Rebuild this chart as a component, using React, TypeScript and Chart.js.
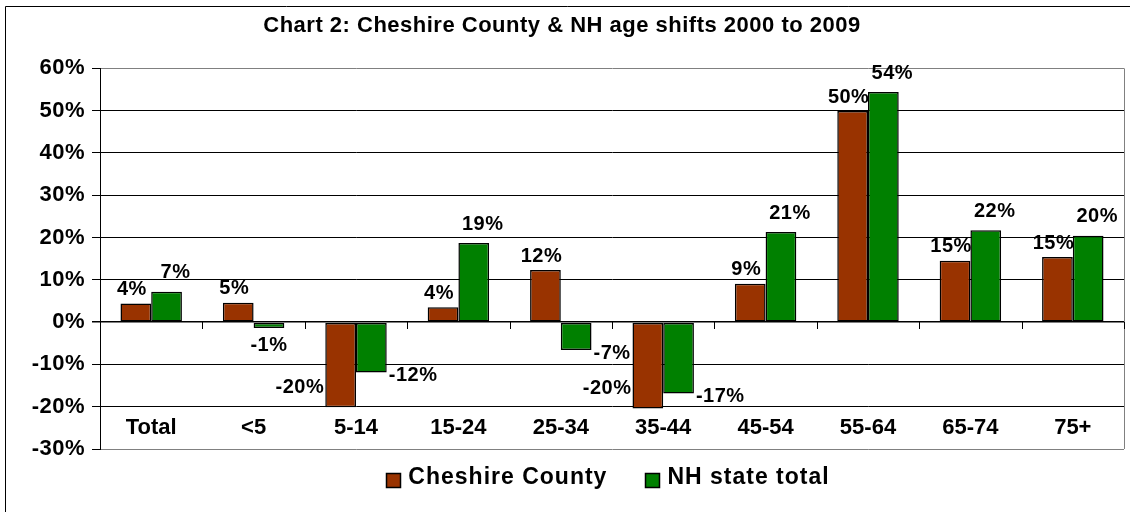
import React, { useEffect, useRef } from "react";
import { Chart, registerables } from "chart.js";

Chart.register(...registerables);

const titleText = "Chart 2: Cheshire County & NH age shifts 2000 to 2009";
const categories = ["Total", "<5", "5-14", "15-24", "25-34", "35-44", "45-54", "55-64", "65-74", "75+"];
const seriesNames = ["Cheshire County", "NH state total"];
const cheshireCounty = [4.4, 4.6, -20.1, 3.5, 12.3, -20.4, 9.1, 49.9, 14.5, 15.4];
const nhStateTotal = [7.2, -1.4, -11.9, 18.7, -6.6, -16.9, 21.3, 54.4, 21.7, 20.4];
const yMin = -30;
const yMax = 60;
const yStep = 10;

const FONT = '"Liberation Sans", Arial, Helvetica, sans-serif';
const BROWN = "#993300";
const GREEN = "#008000";

const decorPlugin = {
  id: "decor",
  beforeDraw(chart: any) {
    const ctx = chart.ctx;
    ctx.save();
    ctx.fillStyle = "#fff";
    ctx.fillRect(0, 0, chart.width, chart.height);
    ctx.strokeStyle = "#000";
    ctx.lineWidth = 1;
    ctx.beginPath();
    ctx.moveTo(5.5, chart.height);
    ctx.lineTo(5.5, 6.5);
    ctx.lineTo(chart.width, 6.5);
    ctx.stroke();
    ctx.restore();
    ctx.letterSpacing = "0.5px";
  },
  beforeDatasetsDraw(chart: any) {
    const ctx = chart.ctx;
    ctx.letterSpacing = "0px";
    const { top, bottom, right } = chart.chartArea;
    const xs = chart.scales.x;
    const ys = chart.scales.y;
    const zero = Math.round(ys.getPixelForValue(0));
    ctx.save();
    ctx.strokeStyle = "#808080";
    ctx.lineWidth = 1;
    ctx.beginPath();
    ctx.moveTo(Math.round(right) + 0.5, top);
    ctx.lineTo(Math.round(right) + 0.5, bottom);
    ctx.stroke();
    ctx.strokeStyle = "#000";
    const w = xs.getPixelForValue(1) - xs.getPixelForValue(0);
    ctx.beginPath();
    for (let i = 1; i <= categories.length; i++) {
      const bx = Math.round(xs.getPixelForValue(i) - w / 2) + 0.5;
      ctx.moveTo(bx, zero);
      ctx.lineTo(bx, zero + 7);
    }
    ctx.stroke();
    ctx.restore();
  },
  afterDatasetsDraw(chart: any) {
    const ctx = chart.ctx;
    ctx.save();
    ctx.letterSpacing = "0.5px";
    ctx.font = `bold 20px ${FONT}`;
    ctx.fillStyle = "#000";
    ctx.textBaseline = "middle";
    ctx.textAlign = "center";
    chart.data.datasets.forEach((ds: any, d: number) => {
      const meta = chart.getDatasetMeta(d);
      meta.data.forEach((bar: any, i: number) => {
        const v = ds.data[i];
        const txt = Math.round(v) + "%";
        const { x, y, width } = bar.getProps(["x", "y", "width"], true);
        const tw = ctx.measureText(txt).width;
        let cx: number;
        let cy: number;
        if (v >= 0) {
          cx = x + (d === 0 ? -4 : 9);
          cy = y - (d === 0 ? 14 : 19);
        } else if (d === 0) {
          cx = x - width / 2 - 1 - tw / 2;
          cy = y - 20;
        } else if (v > -3) {
          cx = x;
          cy = y + 17;
        } else {
          cx = x + width / 2 + 2 + tw / 2;
          cy = y + 3;
        }
        ctx.fillText(txt, cx, cy);
      });
    });
    ctx.restore();
  },
  afterDraw(chart: any) {
    const ctx = chart.ctx;
    const xs = chart.scales.x;
    const ys = chart.scales.y;
    const { left, right, bottom } = chart.chartArea;
    ctx.save();
    ctx.letterSpacing = "0px";
    ctx.fillStyle = "#000";
    ctx.font = `bold 22px ${FONT}`;
    ctx.textAlign = "center";
    ctx.textBaseline = "middle";
    const labelY = ys.getPixelForValue((yMin + yMin + yStep) / 2);
    categories.forEach((c, i) => {
      ctx.fillText(c, xs.getPixelForValue(i), labelY);
    });
    // legend
    ctx.letterSpacing = "1px";
    ctx.font = `bold 23px ${FONT}`;
    ctx.textAlign = "left";
    const box = 14;
    const gapText = 8;
    const gapItem = 38;
    const items = chart.data.datasets.map((ds: any) => ({
      text: ds.label,
      color: ds.backgroundColor,
      w: ctx.measureText(ds.label).width,
    }));
    const total = items.reduce(
      (s: number, it: any, i: number) => s + box + gapText + it.w + (i ? gapItem : 0),
      0
    );
    let lx = (left + right) / 2 - total / 2 - 4;
    const cy = bottom + 30;
    items.forEach((it: any, i: number) => {
      if (i) lx += gapItem;
      ctx.fillStyle = it.color;
      ctx.fillRect(Math.round(lx) + 0.5, Math.round(cy - box / 2 + 1) + 0.5, box, box);
      ctx.strokeStyle = "#000";
      ctx.lineWidth = 1.5;
      ctx.strokeRect(Math.round(lx) + 0.5, Math.round(cy - box / 2 + 1) + 0.5, box, box);
      ctx.fillStyle = "#000";
      ctx.fillText(it.text, lx + box + gapText, cy - 1);
      lx += box + gapText + it.w;
    });
    ctx.restore();
  },
};

export default function App() {
  const canvasRef = useRef<HTMLCanvasElement | null>(null);

  useEffect(() => {
    const canvas = canvasRef.current;
    if (!canvas) return;
    const chart = new Chart(canvas, {
      type: "bar",
      data: {
        labels: categories,
        datasets: [
          {
            label: seriesNames[0],
            data: cheshireCounty,
            backgroundColor: BROWN,
            borderColor: "#000",
            borderWidth: 1.5,
            borderSkipped: false,
            categoryPercentage: 0.6,
            barPercentage: 1.0,
          },
          {
            label: seriesNames[1],
            data: nhStateTotal,
            backgroundColor: GREEN,
            borderColor: "#000",
            borderWidth: 1.5,
            borderSkipped: false,
            categoryPercentage: 0.6,
            barPercentage: 1.0,
          },
        ],
      },
      options: {
        responsive: false,
        maintainAspectRatio: false,
        animation: false,
        devicePixelRatio: 1,
        layout: { padding: { left: 0, right: 6, top: 0, bottom: 63 } },
        plugins: {
          legend: { display: false },
          tooltip: { enabled: false },
          title: {
            display: true,
            text: titleText,
            color: "#000",
            font: { family: FONT, size: 22, weight: "bold" },
            lineHeight: 1.1,
            padding: { top: 13, bottom: 29 },
          },
        },
        scales: {
          x: {
            display: false,
            offset: true,
            grid: { display: false },
          },
          y: {
            min: yMin,
            max: yMax,
            ticks: {
              stepSize: yStep,
              color: "#000",
              font: { family: FONT, size: 22, weight: "bold" },
              padding: 7,
              callback: (v: any) => v + "%",
            },
            grid: {
              color: (c: any) =>
                c.tick && (c.tick.value === yMax || c.tick.value === yMin) ? "#808080" : "#000",
              lineWidth: (c: any) => (c.tick && c.tick.value === 0 ? 1.5 : 1),
              tickLength: 8,
              tickColor: "#000",
              drawTicks: true,
            },
            border: { color: "#000", width: 1 },
            afterFit: (s: any) => {
              s.width = 100;
            },
          },
        },
      },
      plugins: [decorPlugin],
    } as any);
    return () => chart.destroy();
  }, []);

  return (
    <div style={{ position: "absolute", left: 0, top: 0, width: 1130, height: 512, background: "#fff" }}>
      <canvas ref={canvasRef} width={1130} height={512} />
    </div>
  );
}
